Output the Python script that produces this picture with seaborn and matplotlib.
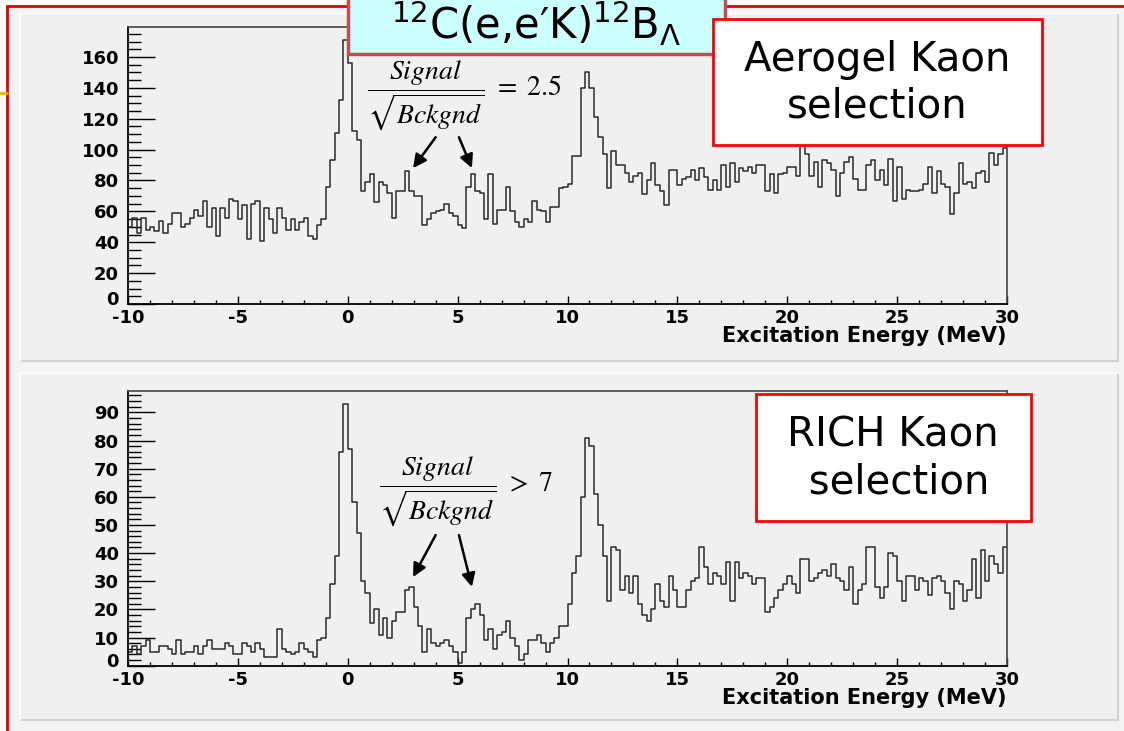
import numpy as np
import pandas as pd
import matplotlib
matplotlib.use('Agg')
import matplotlib.pyplot as plt
import matplotlib.patches as mpatches
import matplotlib.lines as mlines
import matplotlib.transforms as mtransforms
from matplotlib.ticker import MultipleLocator, FixedLocator
import seaborn as sns

# figure size in pixels
W, H = 1124, 731

# 0.2 MeV bins from -10 to 30 MeV
edges = np.linspace(-10, 30, 201)
centres = (edges[:-1] + edges[1:]) / 2

# counts per bin
aerogel_counts = [
    50, 56, 46, 56, 48, 50, 47, 54, 46, 52,
    59, 59, 50, 52, 56, 61, 57, 67, 50, 62,
    44, 62, 56, 68, 67, 55, 64, 42, 65, 67,
    41, 62, 55, 46, 62, 56, 48, 55, 48, 53,
    56, 44, 42, 51, 55, 76, 93, 111, 132, 171,
    156, 112, 106, 73, 79, 84, 66, 79, 77, 72,
    56, 73, 73, 86, 73, 70, 70, 51, 55, 59,
    60, 61, 65, 59, 57, 51, 49, 76, 84, 73,
    72, 55, 84, 52, 61, 61, 76, 60, 53, 50,
    55, 53, 67, 61, 60, 53, 63, 63, 75, 76,
    78, 96, 96, 140, 150, 140, 121, 108, 97, 75,
    99, 90, 90, 85, 79, 83, 85, 71, 80, 91,
    77, 73, 64, 87, 87, 77, 81, 82, 87, 80,
    88, 82, 74, 80, 74, 90, 76, 91, 79, 88,
    86, 89, 85, 90, 90, 73, 84, 72, 84, 85,
    89, 89, 83, 106, 97, 83, 92, 76, 93, 91,
    87, 70, 85, 92, 95, 81, 74, 74, 90, 93,
    80, 87, 77, 94, 67, 89, 68, 74, 73, 73,
    74, 78, 89, 72, 86, 78, 76, 58, 72, 91,
    78, 79, 75, 85, 86, 79, 98, 90, 97, 101,
]

rich_counts = [
    5, 7, 4, 7, 9, 5, 5, 7, 7, 6,
    4, 9, 4, 5, 5, 7, 4, 7, 9, 6,
    6, 6, 8, 7, 4, 4, 8, 7, 5, 8,
    6, 3, 3, 3, 13, 6, 5, 4, 5, 8,
    6, 5, 3, 9, 10, 17, 29, 39, 76, 93,
    77, 58, 47, 30, 26, 15, 20, 11, 17, 10,
    16, 19, 19, 27, 28, 21, 14, 5, 13, 8,
    7, 8, 9, 7, 5, 1, 5, 17, 20, 22,
    18, 9, 13, 6, 11, 12, 16, 10, 7, 2,
    4, 9, 9, 11, 8, 5, 8, 10, 14, 14,
    22, 33, 39, 60, 81, 78, 61, 50, 39, 23,
    42, 41, 27, 32, 26, 32, 22, 18, 16, 20,
    29, 23, 21, 32, 27, 21, 21, 27, 30, 31,
    42, 35, 29, 33, 32, 29, 37, 23, 37, 31,
    33, 32, 29, 31, 31, 19, 21, 24, 27, 29,
    32, 29, 26, 38, 38, 30, 31, 33, 34, 32,
    36, 31, 30, 27, 35, 22, 27, 29, 42, 42,
    28, 24, 28, 40, 39, 30, 23, 32, 32, 27,
    31, 30, 25, 31, 32, 30, 26, 20, 30, 29,
    23, 27, 38, 24, 41, 30, 39, 36, 33, 42,
]

x_ticks = [-10, -5, 0, 5, 10, 15, 20, 25, 30]
aerogel_yticks = [0, 20, 40, 60, 80, 100, 120, 140, 160]
rich_yticks = [0, 10, 20, 30, 40, 50, 60, 70, 80, 90]

title = r'$^{12}$C(e,e′K)$^{12}$B$_{\Lambda}$'
xlabel = 'Excitation Energy (MeV)'
aerogel_label = 'Aerogel Kaon\nselection'
rich_label = 'RICH Kaon\n selection'
aerogel_ratio = r'$\dfrac{Signal}{\sqrt{Bckgnd}}\ =\ 2.5$'
rich_ratio = r'$\dfrac{Signal}{\sqrt{Bckgnd}}\ >\ 7$'

sns.set_style('ticks')
plt.rcParams['font.family'] = ['DejaVu Sans']
plt.rcParams['axes.unicode_minus'] = False
for key in ['text.color', 'axes.labelcolor', 'xtick.color', 'ytick.color']:
    plt.rcParams[key] = 'black'


def fx(x):
    return x / W


def fy(y):
    return 1 - y / H


def rect(x0, y0, x1, y1, **kw):
    return mpatches.Rectangle((fx(x0), fy(y1)), (x1 - x0) / W, (y1 - y0) / H,
                              transform=fig.transFigure, **kw)


def line(xs, ys, **kw):
    return mlines.Line2D([fx(v) for v in xs], [fy(v) for v in ys],
                         transform=fig.transFigure, **kw)


fig = plt.figure(figsize=(W / 100, H / 100), dpi=100, facecolor='white')

# slide background and the red frame
fig.add_artist(rect(7, 6, W, H, facecolor='#f3f3f3', edgecolor='none', zorder=-3))
for y0, y1 in [(13, 361), (373, 720)]:
    fig.add_artist(rect(20, y0, 1118, y1, facecolor='#f0f0f0', edgecolor='none', zorder=-2))
    fig.add_artist(line([20, 1118], [y1, y1], color='#d2d2d2', lw=1.5, zorder=-1))
    fig.add_artist(line([1118, 1118], [y0, y1], color='#d2d2d2', lw=1.5, zorder=-1))
    fig.add_artist(line([20, 1118], [y0, y0], color='#fafafa', lw=1.5, zorder=-1))
    fig.add_artist(line([20, 20], [y0, y1], color='#fafafa', lw=1.5, zorder=-1))
fig.add_artist(line([7, 7], [6, H], color='#e00000', lw=2, zorder=2))
fig.add_artist(line([7, W], [6, 6], color='#e00000', lw=2, zorder=2))
fig.add_artist(line([0, 7], [93, 93], color='#f0b000', lw=2, zorder=2))

ax1 = fig.add_axes([fx(128), fy(304), 879 / W, 277 / H])
ax2 = fig.add_axes([fx(128), fy(665.7), 879 / W, 275 / H])

panels = [
    (ax1, aerogel_counts, 179.4, aerogel_yticks, 5, aerogel_ratio,
     (5.33, 135), [((4.0, 108), (2.97, 88)), ((5.06, 108), (5.65, 88))]),
    (ax2, rich_counts, 97.7, rich_yticks, 2, rich_ratio,
     (5.38, 62), [((4.0, 46.4), (2.97, 31.5)), ((5.06, 46.4), (5.65, 28))]),
]

# small lift for the "0" label so it sits just above "-10"
lift = mtransforms.ScaledTranslation(0, 4 / 72, fig.dpi_scale_trans)

for ax, counts, ymax, yticks, yminor, ratio, ratio_xy, arrows in panels:
    ax.set_facecolor('#f0f0f0')
    df = pd.DataFrame({'energy': centres, 'count': counts})
    sns.histplot(data=df, x='energy', weights='count', binwidth=0.2,
                 binrange=(-10, 30), element='step', fill=False,
                 color='#2a2a2a', linewidth=1.1, ax=ax)
    ax.set_xlim(-10, 30)
    ax.set_ylim(0, ymax)
    ax.set_ylabel('')
    ax.xaxis.set_major_locator(FixedLocator(x_ticks))
    ax.xaxis.set_minor_locator(MultipleLocator(1))
    ax.yaxis.set_major_locator(FixedLocator(yticks))
    ax.yaxis.set_minor_locator(MultipleLocator(yminor))
    ax.set_xticklabels([str(t) for t in x_ticks], fontweight='bold')
    ax.set_yticklabels([str(t) for t in yticks], fontweight='bold')
    ax.tick_params(axis='x', which='major', direction='in', length=6, width=1,
                   pad=3.5, labelsize=13)
    ax.tick_params(axis='x', which='minor', direction='in', length=3, width=1)
    ax.tick_params(axis='y', which='major', direction='in', length=19.5, width=1,
                   pad=6.5, labelsize=13)
    ax.tick_params(axis='y', which='minor', direction='in', length=9.5, width=1)
    zero = ax.get_yticklabels()[0]
    zero.set_transform(zero.get_transform() + lift)
    for s in ['left', 'bottom']:
        ax.spines[s].set_color('black')
        ax.spines[s].set_linewidth(1.3)
    for s in ['top', 'right']:
        ax.spines[s].set_visible(True)
        ax.spines[s].set_color('#444444')
        ax.spines[s].set_linewidth(1.2)
    ax.set_xlabel(xlabel, fontsize=15, fontweight='bold', ha='right')
    ax.xaxis.set_label_coords(1.0, -0.08)

    ax.text(ratio_xy[0], ratio_xy[1], ratio, ha='center', va='center',
            fontsize=20, math_fontfamily='stix')
    for tail, tip in arrows:
        ax.annotate('', xy=tip, xytext=tail,
                    arrowprops=dict(arrowstyle='-|>', color='black', lw=1.8,
                                    mutation_scale=20, shrinkA=0, shrinkB=0))

# title box
fig.add_artist(rect(348, -5, 725, 54, facecolor='#ccffff', edgecolor='#c0504d',
                    lw=2.5, zorder=4))
fig.text(fx(536), fy(23), title, ha='center', va='center', fontsize=30, zorder=5)

# selection boxes
fig.add_artist(rect(713, 19, 1042, 145, facecolor='white', edgecolor='#ff0000',
                    lw=2, zorder=4))
fig.text(fx(877), fy(83), aerogel_label, ha='center', va='center',
         multialignment='center', fontsize=29, linespacing=1.2, zorder=5)
fig.add_artist(rect(756, 394, 1031, 521, facecolor='white', edgecolor='#ff0000',
                    lw=2, zorder=4))
fig.text(fx(893), fy(459), rich_label, ha='center', va='center',
         multialignment='center', fontsize=29, linespacing=1.2, zorder=5)

fig.savefig('out.png', dpi=100, facecolor=fig.get_facecolor())
